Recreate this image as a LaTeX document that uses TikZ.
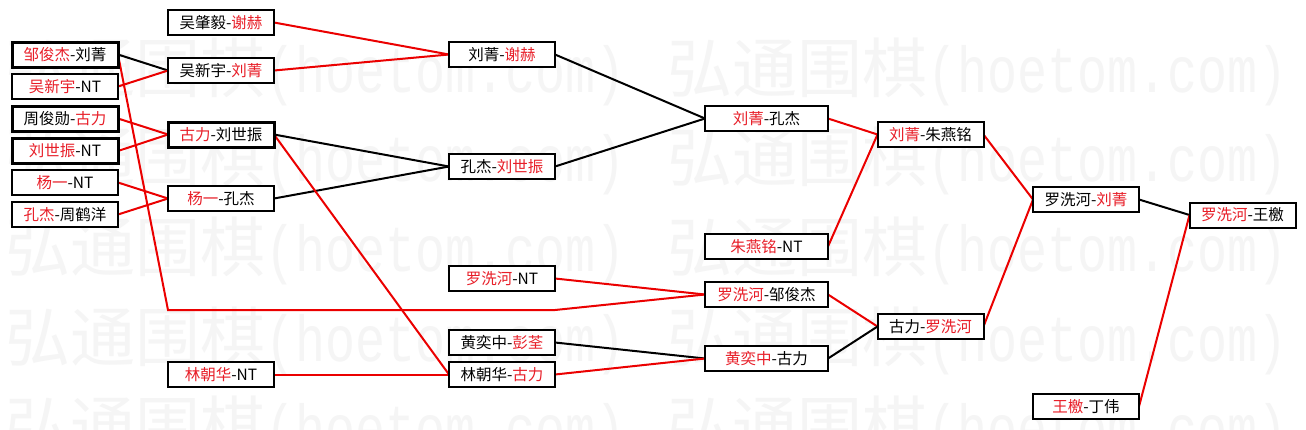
\documentclass[tikz,border=0pt]{standalone}
\usepackage{fontspec}
\usepackage{graphicx}
\usetikzlibrary{backgrounds}
\newfontfamily\cjk{Noto Sans CJK SC}
\newfontfamily\wmmono{Liberation Mono}
\definecolor{lred}{RGB}{235,0,0}
\definecolor{tred}{RGB}{232,30,40}
\definecolor{wm}{RGB}{245,245,245}
\newcommand{\rd}[1]{\textcolor{tred}{#1}}
\tikzset{
  bx/.style={draw=black, line width=2pt, fill=white, minimum height=25pt,
    minimum width=106pt, inner sep=0pt, outer sep=0pt,
    font={\cjk\fontsize{15.5}{16}\selectfont}},
  thk/.style={line width=3pt},
  widebx/.style={minimum width=123pt},
  rl/.style={draw=lred, line width=2pt},
  bl/.style={draw=black, line width=2pt},
  wmark/.style={text=wm, inner sep=0pt, anchor=base west},
}
\begin{document}
\begin{tikzpicture}[x=1pt,y=-1pt]
\useasboundingbox (0,0) rectangle (1306,429);
% column 1
\node[bx,thk] (A1) at (65,54.5)  {\rd{邹俊杰}-刘菁};
\node[bx]     (A2) at (65,86.5)  {\rd{吴新宇}-NT};
\node[bx,thk] (A3) at (65,118.5) {周俊勋-\rd{古力}};
\node[bx,thk] (A4) at (65,151)   {\rd{刘世振}-NT};
\node[bx]     (A5) at (65,182.5) {\rd{杨一}-NT};
\node[bx]     (A6) at (65,214.5) {\rd{孔杰}-周鹤洋};
% column 2
\node[bx]     (B1) at (221,22.5)  {吴肇毅-\rd{谢赫}};
\node[bx]     (B2) at (221,70.5)  {吴新宇-\rd{刘菁}};
\node[bx,thk] (B3) at (221,134.5) {\rd{古力}-刘世振};
\node[bx]     (B4) at (221,198.5) {\rd{杨一}-孔杰};
\node[bx]     (B5) at (221,374.5) {\rd{林朝华}-NT};
% column 3
\node[bx] (C1) at (502,54.5)  {刘菁-\rd{谢赫}};
\node[bx] (C2) at (502,166.5) {孔杰-\rd{刘世振}};
\node[bx] (C3) at (502,278.5) {\rd{罗洗河}-NT};
\node[bx] (C4) at (502,342.5) {黄奕中-\rd{彭荃}};
\node[bx] (C5) at (502,374.5) {林朝华-\rd{古力}};
% column 4
\node[bx,widebx] (D1) at (766.5,118.5) {\rd{刘菁}-孔杰};
\node[bx,widebx] (D2) at (766.5,246.5) {\rd{朱燕铭}-NT};
\node[bx,widebx] (D3) at (766.5,294.5) {\rd{罗洗河}-邹俊杰};
\node[bx,widebx] (D4) at (766.5,358.5) {\rd{黄奕中}-古力};
% column 5
\node[bx] (E1) at (930.5,134.5) {\rd{刘菁}-朱燕铭};
\node[bx] (E2) at (930.5,326.5) {古力-\rd{罗洗河}};
% column 6
\node[bx] (F1) at (1086,199.5) {罗洗河-\rd{刘菁}};
\node[bx] (F2) at (1086,406.5) {\rd{王檄}-丁伟};
% column 7
\node[bx] (G1) at (1242.5,215) {\rd{罗洗河}-王檄};
% bend points
\coordinate (k1) at (168,310);
\coordinate (k2) at (555,310);
\begin{scope}[on background layer]
% page and watermark
\fill[white] (0,0) rectangle (1306,429);
\begin{scope}
\clip (0,0) rectangle (1306,429);
\foreach \c in {68,157,247,337,426}{
  \foreach \x in {5,667}{
    \node[wmark] (wm\x-\c) at (\x,\c+24) {{\cjk\fontsize{65}{65}\selectfont 弘通围棋}\scalebox{1}[1.3]{\wmmono\fontsize{50}{50}\selectfont (hoetom.com)}};
  }
}
\end{scope}
% connectors
\draw[bl] (A1.east) -- (B2.west);
\draw[rl] (A2.east) -- (B2.west);
\draw[rl] (A3.east) -- (B3.west);
\draw[rl] (A4.east) -- (B3.west);
\draw[rl] (A5.east) -- (B4.west);
\draw[rl] (A6.east) -- (B4.west);
\draw[rl] (B1.east) -- (C1.west);
\draw[rl] (B2.east) -- (C1.west);
\draw[bl] (B3.east) -- (C2.west);
\draw[bl] (B4.east) -- (C2.west);
\draw[rl] (B3.east) -- (C5.west);
\draw[rl] (B5.east) -- (C5.west);
\draw[rl] (A1.east) -- (k1) -- (k2) -- (D3.west);
\draw[bl] (C1.east) -- (D1.west);
\draw[bl] (C2.east) -- (D1.west);
\draw[rl] (C3.east) -- (D3.west);
\draw[bl] (C4.east) -- (D4.west);
\draw[rl] (C5.east) -- (D4.west);
\draw[rl] (D1.east) -- (E1.west);
\draw[rl] (D2.east) -- (E1.west);
\draw[rl] (D3.east) -- (E2.west);
\draw[bl] (D4.east) -- (E2.west);
\draw[rl] (E1.east) -- (F1.west);
\draw[rl] (E2.east) -- (F1.west);
\draw[bl] (F1.east) -- (G1.west);
\draw[rl] (F2.east) -- (G1.west);
\end{scope}
\end{tikzpicture}
\end{document}
